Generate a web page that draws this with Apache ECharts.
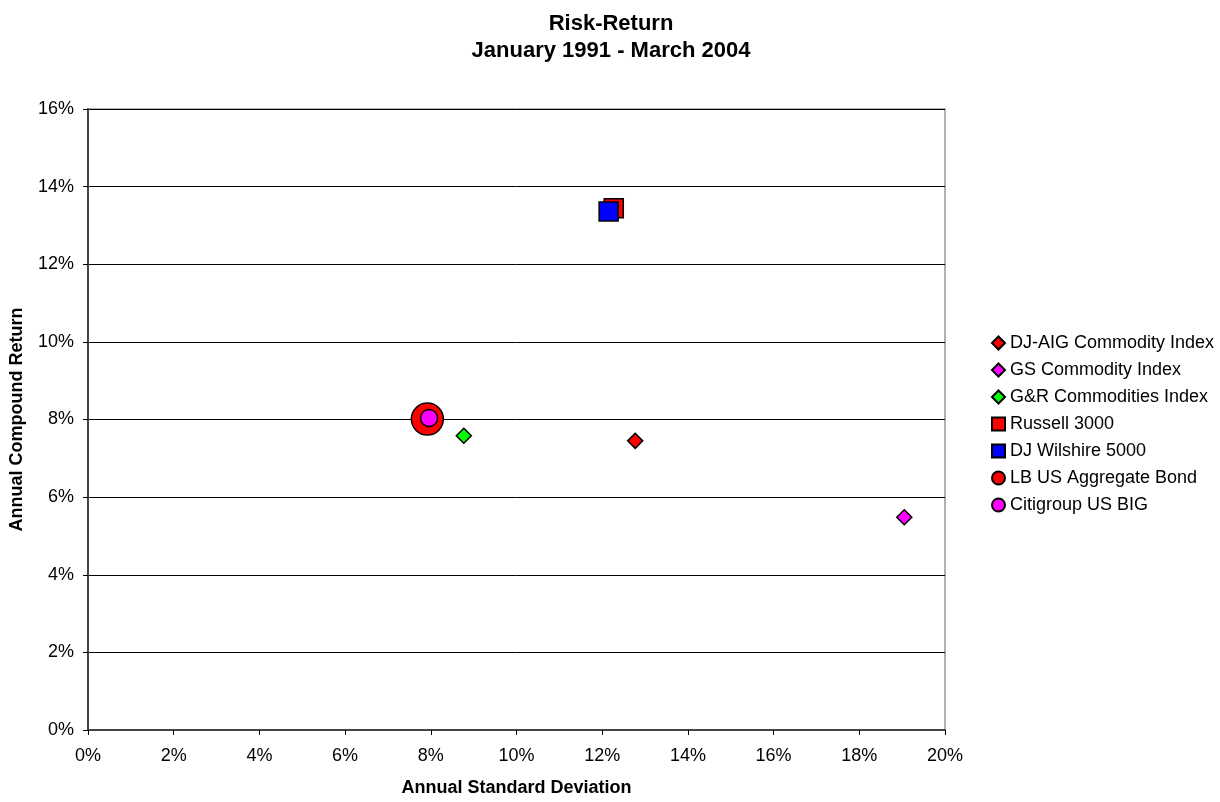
<!DOCTYPE html>
<html>
<head>
<meta charset="utf-8">
<script src="https://cdn.jsdelivr.net/npm/echarts@6/dist/echarts.min.js"></script>
<style>
  html, body { margin: 0; padding: 0; background: #fff; }
  #chart { width: 1220px; height: 802px; }
</style>
</head>
<body>
<div id="chart"></div>
<script>
const SERIES_NAMES = [
  'DJ-AIG Commodity Index',
  'GS Commodity Index',
  'G&R Commodities Index',
  'Russell 3000',
  'DJ Wilshire 5000',
  'LB US Aggregate Bond',
  'Citigroup US BIG',
];
// annual standard deviation (%) and annual compound return (%)
const STD_DEV = [12.77, 19.05, 8.77, 12.27, 12.15, 7.92, 7.96];
const RETURNS = [7.45, 5.48, 7.58, 13.44, 13.36, 8.01, 8.04];

const COLORS = ['#ff0000', '#ff00ff', '#00ff00', '#ff0000', '#0000ff', '#ff0000', '#ff00ff'];
const SYMBOLS = ['diamond', 'diamond', 'diamond', 'rect', 'rect', 'circle', 'circle'];
const SIZES = [15, 15, 15, 19, 19, 32, 17];

const FONT = 'Arial, "Liberation Sans", sans-serif';

const chart = echarts.init(document.getElementById('chart'));

const option = {
  backgroundColor: '#fff',
  animation: false,
  title: {
    text: 'Risk-Return\nJanuary 1991 - March 2004',
    left: 606,
    textAlign: 'center',
    top: 5,
    textStyle: {
      fontFamily: FONT,
      fontSize: 22,
      fontWeight: 'bold',
      color: '#000',
      lineHeight: 27,
    },
  },
  legend: {
    orient: 'vertical',
    left: 986,
    top: 329,
    itemGap: 9,
    itemWidth: 13,
    itemHeight: 13,
    textStyle: { fontFamily: FONT, fontSize: 18, color: '#000' },
    data: SERIES_NAMES.map((n, i) => ({ name: n, icon: SYMBOLS[i] })),
  },
  grid: {
    left: 88,
    right: 275,
    top: 109,
    bottom: 69,
    show: true,
    borderColor: '#999',
    borderWidth: 1.5,
  },
  xAxis: {
    type: 'value',
    min: 0,
    max: 20,
    interval: 2,
    name: 'Annual Standard Deviation',
    nameLocation: 'middle',
    nameGap: 49,
    nameTextStyle: { fontFamily: FONT, fontSize: 18, fontWeight: 'bold', color: '#000' },
    axisLine: { show: true, onZero: false, lineStyle: { color: '#444', width: 2 } },
    axisTick: { show: true, length: 5, lineStyle: { color: '#000' } },
    axisLabel: {
      formatter: (v) => v + '%',
      fontFamily: FONT,
      fontSize: 18,
      color: '#000',
      margin: 17,
    },
    splitLine: { show: false },
  },
  yAxis: {
    type: 'value',
    min: 0,
    max: 16,
    interval: 2,
    name: 'Annual Compound Return',
    nameLocation: 'middle',
    nameGap: 62,
    nameTextStyle: { fontFamily: FONT, fontSize: 18, fontWeight: 'bold', color: '#000' },
    axisLine: { show: true, onZero: false, lineStyle: { color: '#444', width: 2 } },
    axisTick: { show: true, length: 5, lineStyle: { color: '#000' } },
    axisLabel: {
      formatter: (v) => v + '%',
      fontFamily: FONT,
      fontSize: 18,
      color: '#000',
      margin: 14,
    },
    splitLine: { show: true, lineStyle: { color: '#000', width: 1 } },
  },
  series: SERIES_NAMES.map((name, i) => ({
    name: name,
    type: 'scatter',
    symbol: SYMBOLS[i],
    symbolSize: SIZES[i],
    itemStyle: { color: COLORS[i], borderColor: '#000', borderWidth: 1.5, opacity: 1 },
    emphasis: { disabled: true },
    data: [[STD_DEV[i], RETURNS[i]]],
    z: 2 + i,
  })),
};

chart.setOption(option);
</script>
</body>
</html>
